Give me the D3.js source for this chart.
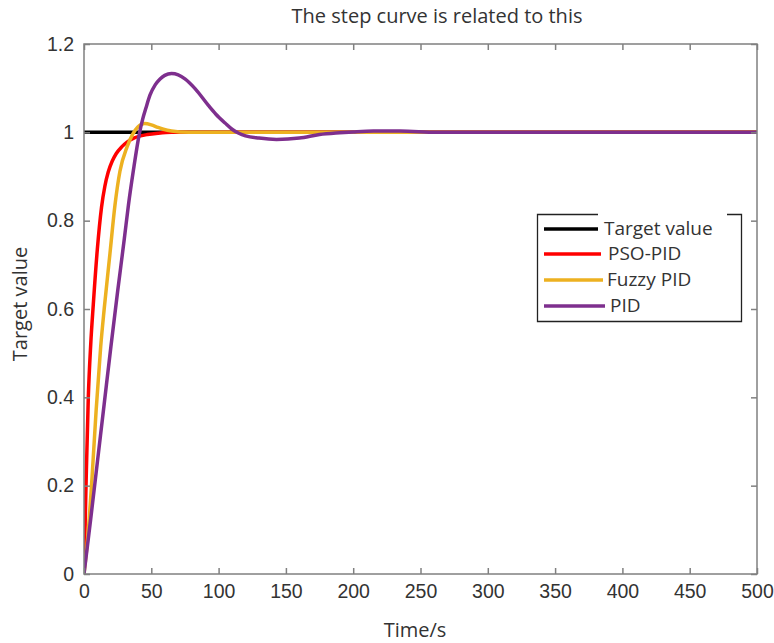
<!DOCTYPE html>
<html><head><meta charset="utf-8">
<script src="https://cdn.jsdelivr.net/npm/d3@7"></script>
<style>body{margin:0;background:#fff;} svg{display:block;}</style>
</head><body>
<svg id="c" width="774" height="643"></svg>
<script>
// ---- data ----
const seriesNames = ["Target value", "PSO-PID", "Fuzzy PID", "PID"];
const seriesColors = ["#000000", "#ff0000", "#edb120", "#7e2f8e"];
const targetValue = [[0,1],[500,1]];
const psoPid = [[0,0],[1.5,0.2],[3.2,0.4],[5,0.52],[6.9,0.61],[9.9,0.735],[13,0.83],[15.5,0.878],[18,0.91],[21,0.935],[24,0.952],[28,0.967],[32,0.978],[37,0.987],[42,0.992],[47,0.995],[55,0.998],[65,1.0],[80,1.0],[500,1.0]];
const fuzzyPid = [[0,0],[3,0.09],[6,0.22],[9,0.37],[12.4,0.515],[15,0.6],[19.3,0.726],[23,0.835],[26.7,0.912],[32,0.967],[36,0.995],[40,1.012],[45,1.02],[50,1.017],[55,1.011],[59,1.007],[65,1.003],[71,1.001],[85,1.0],[500,1.0]];
const pid = [[0,0],[5,0.125],[10,0.255],[15,0.385],[20,0.515],[25,0.64],[30,0.76],[33,0.835],[36.7,0.914],[41,0.995],[43.6,1.03],[46,1.055],[49,1.084],[53,1.108],[56.5,1.121],[60,1.129],[65,1.133],[70,1.13],[75,1.121],[82.5,1.099],[92.4,1.061],[98,1.041],[104.8,1.021],[110,1.007],[115,0.998],[120,0.992],[130,0.987],[143,0.984],[160,0.987],[175,0.995],[190,0.999],[200,1.001],[215,1.003],[235,1.003],[262,1.0],[300,1.0],[500,1.0]];
const xTicks = [0,50,100,150,200,250,300,350,400,450,500];
const yTicks = [0,0.2,0.4,0.6,0.8,1,1.2];
const yTickLabels = ["0","0.2","0.4","0.6","0.8","1","1.2"];
const titleText = "The step curve is related to this";
const xLabel = "Time/s";
const yLabel = "Target value";

// ---- layout ----
const L = 84, R = 757, T = 44, B = 574;
const svg = d3.select("#c");
const x = d3.scaleLinear().domain([0,500]).range([L,R]);
const y = d3.scaleLinear().domain([0,1.2]).range([B,T]);
const axisColor = "#808080";
const textColor = "#333333";
const tickFont = "Liberation Sans, Arial, sans-serif";
const labelFont = "Open Sans, Noto Sans, sans-serif";

// curves
const line = d3.line().x(d=>x(d[0])).y(d=>y(d[1])).curve(d3.curveMonotoneX);
const allSeries = [targetValue, psoPid, fuzzyPid, pid];
svg.append("clipPath").attr("id","pc").append("rect")
  .attr("x",L).attr("y",T-10).attr("width",R-L).attr("height",B-T+10);
svg.append("g").attr("clip-path","url(#pc)")
  .selectAll("path").data(allSeries).join("path")
  .attr("d", line).attr("fill","none")
  .attr("stroke",(d,i)=>seriesColors[i]).attr("stroke-width",3.5)
  .attr("stroke-linejoin","round").attr("stroke-linecap","round");

// axes
function styleAxis(g){
  g.select(".domain").remove();
  g.selectAll(".tick line").attr("stroke",axisColor).attr("stroke-width",1.5);
  g.selectAll(".tick text").attr("fill",textColor).attr("font-family",tickFont).attr("font-size",19.5);
}
svg.append("g").attr("transform",`translate(0,${B})`)
  .call(d3.axisBottom(x).tickValues(xTicks).tickFormat(d3.format("d")).tickSizeInner(-6).tickSizeOuter(0).tickPadding(10))
  .call(styleAxis);
svg.append("g").attr("transform",`translate(${L},0)`)
  .call(d3.axisLeft(y).tickValues(yTicks).tickFormat((d,i)=>yTickLabels[i]).tickSizeInner(-6).tickSizeOuter(0).tickPadding(10))
  .call(styleAxis);
svg.append("g").attr("transform",`translate(0,${T})`)
  .call(d3.axisTop(x).tickValues(xTicks).tickFormat("").tickSizeInner(-6).tickSizeOuter(0))
  .call(styleAxis);
svg.append("g").attr("transform",`translate(${R},0)`)
  .call(d3.axisRight(y).tickValues(yTicks).tickFormat("").tickSizeInner(-6).tickSizeOuter(0))
  .call(styleAxis);
svg.append("rect").attr("x",L).attr("y",T).attr("width",R-L).attr("height",B-T)
  .attr("fill","none").attr("stroke",axisColor).attr("stroke-width",1.5);

// title & labels
svg.append("text").attr("x",437).attr("y",23).attr("text-anchor","middle")
  .attr("font-family",labelFont).attr("font-size",20).attr("fill",textColor).text(titleText);
svg.append("text").attr("x",415).attr("y",637).attr("text-anchor","middle")
  .attr("font-family",labelFont).attr("font-size",20).attr("fill",textColor).text(xLabel);
svg.append("text").attr("transform","translate(27,304) rotate(-90)").attr("text-anchor","middle")
  .attr("font-family",labelFont).attr("font-size",20).attr("fill",textColor).text(yLabel);

// legend
svg.append("path").attr("d","M598,214.5 H537.5 V321.5 H741.5 V214.5 H727")
  .attr("fill","none").attr("stroke","#222").attr("stroke-width",1.3);
const rowsY = [229,254,280,306];
const lineEnds = [598,601,603,605];
const textX = [604,608,607,610];
const lg = svg.append("g");
seriesNames.forEach((n,i)=>{
  lg.append("line").attr("x1",544).attr("x2",lineEnds[i]).attr("y1",rowsY[i]).attr("y2",rowsY[i])
    .attr("stroke",seriesColors[i]).attr("stroke-width",3.5);
  lg.append("text").attr("x",textX[i]).attr("y",rowsY[i]+6).attr("font-family",labelFont)
    .attr("font-size",19).attr("fill",textColor).text(n);
});
</script>
</body></html>
